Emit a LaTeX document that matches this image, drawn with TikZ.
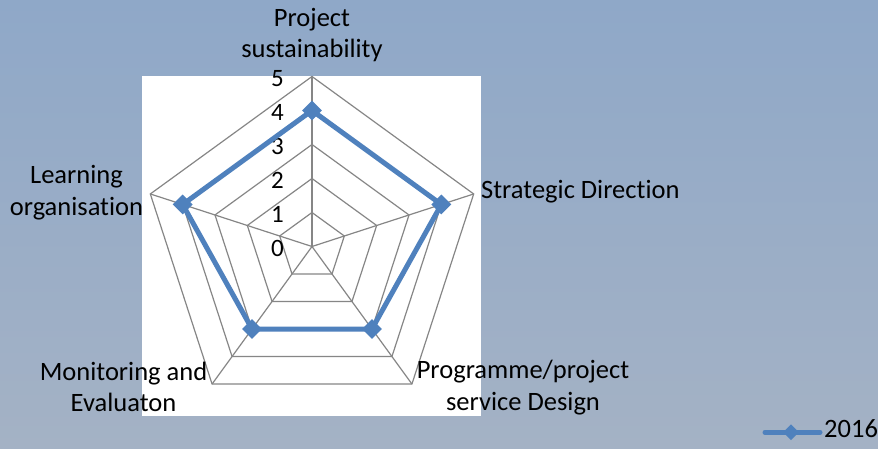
\documentclass[tikz,border=0pt]{standalone}
\usepackage{fontspec}
\setmainfont{Carlito}[Ligatures=NoCommon]
\usetikzlibrary{shapes.geometric}
\definecolor{gridgray}{HTML}{868686}
\definecolor{seriesblue}{HTML}{4F81BD}
\definecolor{skytop}{HTML}{8FA8C8}
\definecolor{skybottom}{HTML}{A4B2C5}

\tikzset{
	grid line/.style={draw=gridgray, line width=1.2pt, line join=miter},
	series line/.style={draw=seriesblue, line width=5pt, line join=round},
	series mark/.style={diamond, fill=seriesblue, inner sep=0pt, shape aspect=1, minimum size=20pt},
	cat label/.style={font=\fontsize{26.5}{31.7}\selectfont, align=center, inner sep=0pt},
	tick label/.style={font=\fontsize{25}{30}\selectfont, anchor=east, inner sep=0pt}
}

\begin{document}
\begin{tikzpicture}[x=1pt,y=1pt]
		\shade[top color=skytop, bottom color=skybottom] (0,0) rectangle (878,448);
		\useasboundingbox (0,0) rectangle (878,448);
		\fill[white] (142,32) rectangle (481,371.5);
		
		\begin{scope}[shift={(312,201.5)}]
		% web
		\draw[grid line] (90:34) -- (18:34) -- (-54:34) -- (-126:34) -- (162:34) -- cycle;
		\draw[grid line] (90:68) -- (18:68) -- (-54:68) -- (-126:68) -- (162:68) -- cycle;
		\draw[grid line] (90:102) -- (18:102) -- (-54:102) -- (-126:102) -- (162:102) -- cycle;
		\draw[grid line] (90:136) -- (18:136) -- (-54:136) -- (-126:136) -- (162:136) -- cycle;
		\draw[grid line] (90:170) -- (18:170) -- (-54:170) -- (-126:170) -- (162:170) -- cycle;
		
		\draw[grid line] (0,0) -- (90:170);
		\draw[grid line] (0,0) -- (18:170);
		\draw[grid line] (0,0) -- (-54:170);
		\draw[grid line] (0,0) -- (-126:170);
		\draw[grid line] (0,0) -- (162:170);
		
		\node[tick label] (t0) at (-28,-2) {0};
		\node[tick label] (t1) at (-28,32) {1};
		\node[tick label] (t2) at (-28,66) {2};
		\node[tick label] (t3) at (-28,100) {3};
		\node[tick label] (t4) at (-28,134) {4};
		\node[tick label] (t5) at (-28,168) {5};
		
		% 2016 series
		\coordinate (sustain) at (90:136);
		\coordinate (strategy) at (18:136);
		\coordinate (design) at (-54:102);
		\coordinate (monitor) at (-126:102);
		\coordinate (learning) at (162:136);
		\draw[series line] (sustain) -- (strategy) -- (design) -- (monitor) -- (learning) -- cycle;
		\node[series mark] (m1) at (sustain) {};
		\node[series mark] (m2) at (strategy) {};
		\node[series mark] (m3) at (design) {};
		\node[series mark] (m4) at (monitor) {};
		\node[series mark] (m5) at (learning) {};
		\end{scope}
		
		% axis names (base = last line)
		\node[cat label, anchor=base] (lsustain) at (312,390) {Project\\sustainability};
		\node[cat label, anchor=base west] (lstrategy) at (481,249.7) {Strategic Direction};
		\node[cat label, anchor=base] (ldesign) at (523,38) {Programme/project\\service Design};
		\node[cat label, anchor=base] (lmonitor) at (123.5,36.3) {Monitoring and\\Evaluaton};
		\node[cat label, anchor=base] (llearning) at (76.5,233) {Learning\\organisation};
		
		% legend
		\coordinate (legA) at (765,15.7);
		\coordinate (legB) at (820,15.7);
		\draw[seriesblue, line width=5pt, line cap=round] (legA) -- (legB);
		\node[series mark, minimum size=16pt] (legmark) at (791,15.7) {};
		\node[cat label, anchor=base west] (legtext) at (824,10.7) {2016};
	\end{tikzpicture}
\end{document}
